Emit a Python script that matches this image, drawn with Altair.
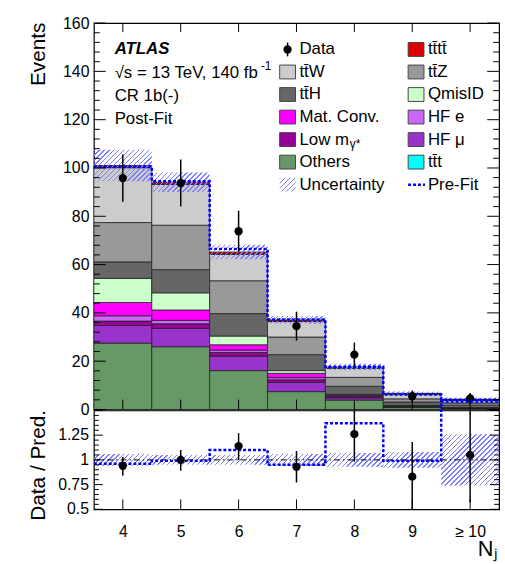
import altair as alt
import pandas as pd

# ---------------- data ----------------
bins = [4, 5, 6, 7, 8, 9, 10]
x_tick_labels = ["4", "5", "6", "7", "8", "9", "≥ 10"]
ratio_tick_values = [0.5, 0.75, 1.0, 1.25]
ratio_tick_labels = ["0.5", "0.75", "1", "1.25"]

# stack components, bottom -> top
components = ["Others", "HF μ", "Low mγ*", "HF e", "Mat. Conv.", "QmisID",
              "tt̄H", "tt̄Z", "tt̄W", "tt̄t", "tt̄tt̄"]
colors = ["#669966", "#9933cc", "#990099", "#cc66ff", "#ff00ff", "#ccffcc",
          "#666666", "#999999", "#cccccc", "#00ffff", "#dd0000"]

others = [27.5, 26.0, 16.1, 7.4, 3.9, 0.8, 0.4]
hf_mu = [7.3, 7.6, 6.0, 3.8, 0.9, 0.3, 0.1]
low_m = [1.8, 1.9, 1.5, 1.1, 0.5, 0.2, 0.1]
hf_e = [2.2, 1.4, 1.0, 0.9, 0.3, 0.1, 0.05]
mat_conv = [5.5, 4.3, 2.2, 1.8, 0.4, 0.2, 0.1]
qmisid = [10.0, 7.1, 3.6, 1.1, 0.3, 0.1, 0.05]
tth = [6.8, 9.6, 9.3, 6.6, 3.3, 1.4, 1.0]
ttz = [16.3, 18.4, 13.6, 7.3, 3.7, 1.3, 0.9]
ttw = [22.7, 16.9, 11.0, 6.4, 3.8, 2.0, 1.25]
ttt = [0.1, 0.1, 0.1, 0.1, 0.1, 0.05, 0.05]
tttt = [0.8, 0.8, 0.8, 0.6, 0.4, 0.25, 0.2]
series = [others, hf_mu, low_m, hf_e, mat_conv, qmisid, tth, ttz, ttw, ttt, tttt]

data_vals = [95.8, 93.8, 73.8, 34.5, 22.7, 5.5, 4.6]
data_err = [9.8, 9.7, 8.5, 6.0, 5.0, 2.4, 2.2]
unc_main = [6.5, 4.0, 3.0, 1.6, 1.3, 0.7, 0.8]
prefit_main = [100.6, 94.5, 66.5, 37.3, 17.7, 6.2, 4.0]

ratio_vals = [0.94, 1.00, 1.14, 0.93, 1.26, 0.83, 1.05]
ratio_err_lo = [0.84, 0.89, 1.00, 0.77, 0.98, 0.47, 0.57]
ratio_err_hi = [1.03, 1.10, 1.27, 1.09, 1.54, 1.18, 1.57]
unc_ratio = [0.06, 0.05, 0.05, 0.06, 0.07, 0.08, 0.26]
prefit_ratio = [0.96, 0.99, 1.10, 0.95, 1.37, 0.99, 1.59]

legend_col1 = ["Data", "tt̄W", "tt̄H", "Mat. Conv.", "Low m", "Others", "Uncertainty"]
legend_col2 = ["tt̄tt̄", "tt̄Z", "QmisID", "HF e", "HF μ", "tt̄t", "Pre-Fit"]
legend_box1 = [None, "tt̄W", "tt̄H", "Mat. Conv.", "Low mγ*", "Others", None]
legend_box2 = ["tt̄tt̄", "tt̄Z", "QmisID", "HF e", "HF μ", "tt̄t", None]

# ---------------- layout / style ----------------
W, HM, HR = 410, 391, 100
FONT = "Liberation Sans"
BLUE = "#0000ff"
HATCH = "#7c7cff"
xs = alt.Scale(domain=[3.5, 10.5], nice=False, zero=False)
ysm = alt.Scale(domain=[0, 160], nice=False, zero=False)
ysr = alt.Scale(domain=[0.5, 1.5], nice=False, zero=False)
bw = W / 7.0


def hatch_fill(wpx, hpx, spacing=5.0, frac=0.3):
    L = wpx + hpx
    k = L / (wpx ** 2 + hpx ** 2)
    n = L / spacing
    clear = "rgba(124,124,255,0)"
    stops = []
    i = 0
    while i < n:
        a = i / n
        b = min((i + frac) / n, 1.0)
        stops += [{"offset": a, "color": clear}, {"offset": a, "color": HATCH},
                  {"offset": b, "color": HATCH}, {"offset": b, "color": clear}]
        i += 1
    return {"gradient": "linear", "x1": 0, "y1": 0, "x2": k * wpx, "y2": k * hpx,
            "stops": stops}


lo = [b - 0.5 for b in bins]
hi = [b + 0.5 for b in bins]
tot = [sum(s[i] for s in series) for i in range(7)]

rows = []
for i in range(7):
    base = 0.0
    for ci, (c, s) in enumerate(zip(components, series)):
        rows.append({"lo": lo[i], "hi": hi[i], "comp": c, "y0": base, "y1": base + s[i]})
        base += s[i]
stack_df = pd.DataFrame(rows)

pts = pd.DataFrame({"x": bins, "d": data_vals,
                    "dl": [d - e for d, e in zip(data_vals, data_err)],
                    "dh": [d + e for d, e in zip(data_vals, data_err)],
                    "r": ratio_vals, "rl": ratio_err_lo, "rh": ratio_err_hi})

edges = lo + [hi[-1]]
pre_main_df = pd.DataFrame({"x": edges, "y": prefit_main + [prefit_main[-1]]})
pre_ratio_df = pd.DataFrame({"x": edges, "y": prefit_ratio + [prefit_ratio[-1]]})

x_label_expr = "[" + ",".join("'%s'" % s for s in x_tick_labels) + "][datum.value - 4]"


def X(f):
    return alt.X(f, type="quantitative", scale=xs)


def YM(f):
    return alt.Y(f, type="quantitative", scale=ysm)


def YR(f):
    return alt.Y(f, type="quantitative", scale=ysr)


# ---------------- main panel ----------------
main_axes = alt.Chart(pd.DataFrame({"ax": [7.0], "ay": [80.0]})).mark_point(
    opacity=0, clip=True).encode(
    x=alt.X("ax:Q", scale=xs, axis=alt.Axis(labels=False, ticks=False, domain=False,
                                              grid=False, title=None)),
    y=alt.Y("ay:Q", scale=ysm,
            axis=alt.Axis(values=list(range(0, 161, 20)), title="Events",
                          titleAngle=270, titleAlign="right", titleBaseline="top",
                          titleX=-67, titleY=-1, titleFontSize=21, titleFontWeight="normal",
                          labelFontSize=16, labelPadding=5, labelFlush=False,
                          labelOverlap=False, ticks=False, domain=False, grid=False)),
)

bars = alt.Chart(stack_df).mark_rect(stroke="#222222", strokeWidth=0.8, opacity=1).encode(
    x=X("lo"), x2="hi", y=YM("y0"), y2="y1",
    fill=alt.Fill("comp:N", scale=alt.Scale(domain=components, range=colors), legend=None),
)

hatch_main = []
for i in range(7):
    df = pd.DataFrame({"lo": [lo[i]], "hi": [hi[i]], "a": [tot[i] - unc_main[i]],
                       "b": [tot[i] + unc_main[i]]})
    hpx = 2 * unc_main[i] * HM / 160.0
    hatch_main.append(alt.Chart(df).mark_rect(fill=hatch_fill(bw, hpx)).encode(
        x=X("lo"), x2="hi", y=YM("a"), y2="b"))

pre_main = alt.Chart(pre_main_df).mark_line(
    color=BLUE, strokeWidth=2.5, strokeDash=[3, 2], interpolate="step-after").encode(
    x=X("x"), y=YM("y"))

err_main = alt.Chart(pts).mark_rule(color="black", strokeWidth=1.5).encode(
    x=X("x"), y=YM("dl"), y2="dh")
dot_main = alt.Chart(pts).mark_circle(color="black", size=70, opacity=1).encode(
    x=X("x"), y=YM("d"))


def yticks(vals, length, yenc, right=False):
    df = pd.DataFrame({"v": vals})
    x0, x1 = (W - length, W) if right else (0, length)
    return alt.Chart(df).mark_rule(color="black", strokeWidth=1).encode(
        y=yenc("v"), x=alt.value(x0), x2=alt.value(x1))


def xticks(vals, length, H, top=False):
    df = pd.DataFrame({"v": vals})
    y0, y1 = (0, length) if top else (H - length, H)
    return alt.Chart(df).mark_rule(color="black", strokeWidth=1).encode(
        x=X("v"), y=alt.value(y0), y2=alt.value(y1))


maj_m = list(range(0, 161, 20))
min_m = [v for v in range(0, 161, 4) if v % 20]
ticks_main = [yticks(maj_m, 12, YM), yticks(min_m, 6, YM),
              yticks(maj_m, 12, YM, True), yticks(min_m, 6, YM, True),
              xticks(bins, 10, HM), xticks(bins, 9, HM, top=True)]

# annotation text
atlas = alt.Chart(pd.DataFrame({"t": ["ATLAS"]})).mark_text(
    font=FONT, fontSize=17, fontWeight="bold", fontStyle="italic", align="left",
    baseline="alphabetic", color="black").encode(x=alt.value(21), y=alt.value(31), text="t:N")
ann_df = pd.DataFrame({"t": ["√s = 13 TeV, 140 fb", "CR 1b(-)", "Post-Fit"],
                       "px": [21, 21, 21], "py": [56, 79, 102]})
ann = alt.Chart(ann_df).mark_text(font=FONT, fontSize=17, align="left",
                                  baseline="alphabetic", color="black").encode(
    x=alt.X("px:Q", scale=None), y=alt.Y("py:Q", scale=None), text="t:N")
sup = alt.Chart(pd.DataFrame({"t": ["-1"]})).mark_text(
    font=FONT, fontSize=12, align="left", baseline="alphabetic", color="black").encode(
    x=alt.value(169), y=alt.value(47), text="t:N")

# legend
ROW0, DROW = 26.7, 22.8
TX1, TX2 = 208, 338
BX1, BX2 = 188, 318
leg_rows = []
for i, t in enumerate(legend_col1):
    leg_rows.append({"t": t, "px": TX1, "py": ROW0 + DROW * i})
for i, t in enumerate(legend_col2):
    leg_rows.append({"t": t, "px": TX2, "py": ROW0 + DROW * i})
leg_text = alt.Chart(pd.DataFrame(leg_rows)).mark_text(
    font=FONT, fontSize=17, align="left", baseline="middle", color="black").encode(
    x=alt.X("px:Q", scale=None), y=alt.Y("py:Q", scale=None), text="t:N")
sub = alt.Chart(pd.DataFrame({"t": ["γ*"]})).mark_text(
    font=FONT, fontSize=12, align="left", baseline="middle", color="black").encode(
    x=alt.value(TX1 + 51), y=alt.value(ROW0 + DROW * 4 + 5), text="t:N")

cmap = dict(zip(components, colors))
box_rows = []
for bx, boxes in ((BX1, legend_box1), (BX2, legend_box2)):
    for i, c in enumerate(boxes):
        if c is None:
            continue
        yc = ROW0 + DROW * i
        box_rows.append({"x1": bx, "x2": bx + 16, "y1": yc - 7, "y2": yc + 7, "c": cmap[c]})
leg_box = alt.Chart(pd.DataFrame(box_rows)).mark_rect(stroke="#444444", strokeWidth=1).encode(
    x=alt.X("x1:Q", scale=None), x2="x2:Q", y=alt.Y("y1:Q", scale=None), y2="y2:Q",
    fill=alt.Fill("c:N", scale=None))
one = pd.DataFrame({"a": [0]})
leg_unc = alt.Chart(one).mark_rect(fill=hatch_fill(16, 14)).encode(
    x=alt.value(BX1), x2=alt.value(BX1 + 16),
    y=alt.value(ROW0 + DROW * 6 - 7), y2=alt.value(ROW0 + DROW * 6 + 7))
leg_pre = alt.Chart(one).mark_rule(color=BLUE, strokeWidth=2.5, strokeDash=[3, 2]).encode(
    x=alt.value(BX2), x2=alt.value(BX2 + 17), y=alt.value(ROW0 + DROW * 6))
leg_bar = alt.Chart(one).mark_rule(color="black", strokeWidth=1.5).encode(
    x=alt.value(BX1 + 8), y=alt.value(ROW0 - 7), y2=alt.value(ROW0 + 7))
leg_dot = alt.Chart(one).mark_circle(color="black", size=70, opacity=1).encode(
    x=alt.value(BX1 + 8), y=alt.value(ROW0))

main = alt.layer(main_axes, bars, *hatch_main, pre_main, err_main, dot_main, *ticks_main,
                 atlas, ann, sup, leg_box, leg_unc, leg_pre, leg_bar, leg_dot,
                 leg_text, sub).properties(width=W, height=HM)

# ---------------- ratio panel ----------------
hatch_ratio = []
for i in range(7):
    df = pd.DataFrame({"lo": [lo[i]], "hi": [hi[i]], "a": [1 - unc_ratio[i]],
                       "b": [1 + unc_ratio[i]]})
    hpx = 2 * unc_ratio[i] * HR
    hatch_ratio.append(alt.Chart(df).mark_rect(fill=hatch_fill(bw, hpx)).encode(
        x=X("lo"), x2="hi", y=YR("a"), y2="b"))

ratio_axes = alt.Chart(pd.DataFrame({"ax": [7.0], "ay": [1.0]})).mark_point(
    opacity=0, clip=True).encode(
    x=alt.X("ax:Q", scale=xs,
            axis=alt.Axis(values=bins, labelExpr=x_label_expr, title="Nⱼ",
                          titleX=388, titleY=47, titleAlign="left", titleAngle=0,
                          titleBaseline="alphabetic", titleFontSize=22,
                          titleFontWeight="normal", labelFontSize=16, labelPadding=15,
                          labelFlush=False, labelOverlap=False, ticks=False,
                          domain=False, grid=False)),
    y=alt.Y("ay:Q", scale=ysr,
            axis=alt.Axis(values=ratio_tick_values, labels=False,
                          title="Data / Pred.",
                          titleAngle=270, titleAlign="right", titleBaseline="top",
                          titleX=-67, titleY=-1, titleFontSize=21, titleFontWeight="normal",
                          ticks=False, domain=False, grid=False)),
)

ratio_labels = alt.Chart(pd.DataFrame({"v": ratio_tick_values, "t": ratio_tick_labels})).mark_text(
    font=FONT, fontSize=16, align="right", baseline="middle", color="black").encode(
    y=YR("v"), x=alt.value(-5), text="t:N")

one_line = alt.Chart(pd.DataFrame({"v": [1.0]})).mark_rule(
    color="black", strokeWidth=1, strokeDash=[6, 3, 1.5, 3]).encode(
    y=YR("v"), x=alt.value(0), x2=alt.value(W))

pre_ratio = alt.Chart(pre_ratio_df).mark_line(
    color=BLUE, strokeWidth=2.5, strokeDash=[3, 2], interpolate="step-after",
    clip=False).encode(x=X("x"), y=YR("y"))

err_ratio = alt.Chart(pts).mark_rule(color="black", strokeWidth=1.5, clip=True).encode(
    x=X("x"), y=YR("rl"), y2="rh")
dot_ratio = alt.Chart(pts).mark_circle(color="black", size=70, opacity=1).encode(
    x=X("x"), y=YR("r"))

maj_r = [0.5, 0.75, 1.0, 1.25, 1.5]
min_r = [round(0.5 + 0.05 * k, 2) for k in range(21) if k % 5]
ticks_ratio = [yticks(maj_r, 9, YR), yticks(min_r, 5, YR),
               yticks(maj_r, 9, YR, True), yticks(min_r, 5, YR, True),
               xticks(bins, 10, HR)]

ratio = alt.layer(ratio_axes, ratio_labels, *hatch_ratio, one_line, pre_ratio, err_ratio,
                  dot_ratio, *ticks_ratio).properties(width=W, height=HR)

chart = alt.vconcat(main, ratio, spacing=1, bounds="flush").properties(
    padding={"left": 27, "top": 11, "right": 0, "bottom": 0}
).configure_view(stroke="black", strokeWidth=1.2).configure_axis(
    labelFont=FONT, titleFont=FONT, labelColor="black", titleColor="black")

chart.save("out.html", embed_options={"renderer": "svg", "actions": False})
